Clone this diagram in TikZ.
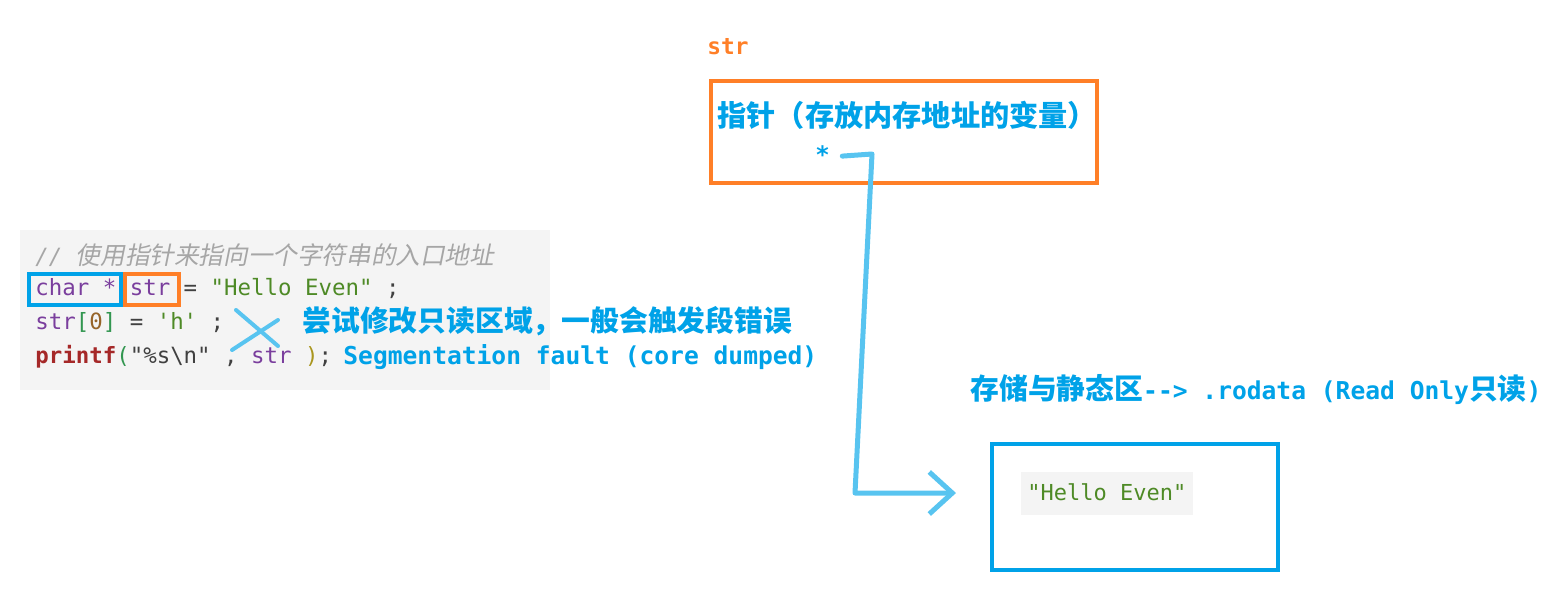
\documentclass[tikz,border=0pt]{standalone}
\usepackage{fontspec}
\setmonofont{DejaVu Sans Mono}
\newfontfamily\cjk{Noto Sans CJK SC}
\newfontfamily\cjkit[FakeSlant=0.2]{Noto Sans CJK SC}
\usetikzlibrary{arrows.meta}

\definecolor{paintorange}{RGB}{255,127,39}
\definecolor{paintblue}{RGB}{0,162,232}
\definecolor{penblue}{RGB}{88,196,240}
\definecolor{codebg}{RGB}{244,244,244}
\definecolor{cmtgray}{RGB}{166,166,166}
\definecolor{kwpurple}{RGB}{122,62,157}
\definecolor{strgreen}{RGB}{78,138,38}
\definecolor{fnred}{RGB}{165,40,40}
\definecolor{plaingray}{RGB}{64,64,64}
\definecolor{numbrown}{RGB}{150,100,40}
\definecolor{brkgreen}{RGB}{50,150,80}
\definecolor{brkolive}{RGB}{170,150,30}

\begin{document}
\begin{tikzpicture}
[
    x=0.5pt, y=-0.5pt,
    codeline/.style={font=\ttfamily\fontsize{11.2}{13}\selectfont, inner sep=0pt, anchor=base west},
    bluenote/.style={text=paintblue, inner sep=0pt, anchor=base west},
    framebox/.style={draw=#1, line width=2pt, inner sep=0pt, anchor=north west},
    penline/.style={draw=penblue, line width=2.5pt, line cap=round, line join=round},
]
\useasboundingbox (0,0) rectangle (1568,601);

% code snippet
\fill[codebg] (20,230) rectangle (550,390);
\node[codeline] (cmt) at (35,264)
{\color{cmtgray}\itshape //\ {\cjkit\fontsize{12.3}{14}\selectfont 使用指针来指向一个字符串的入口地址}};
\node[codeline] (decl) at (35,295)
{\textcolor{kwpurple}{char *} \textcolor{kwpurple}{str} \textcolor{plaingray}{=} \textcolor{strgreen}{"Hello Even"} \textcolor{plaingray}{;}};
\node[codeline] (assign) at (35,329)
{\textcolor{kwpurple}{str}\textcolor{brkgreen}{[}\textcolor{numbrown}{0}\textcolor{brkgreen}{]} \textcolor{plaingray}{=} \textcolor{strgreen}{'h'} \textcolor{plaingray}{;}};
\node[codeline] (call) at (35,363)
{\textcolor{fnred}{\bfseries printf}\textcolor{brkgreen}{(}\textcolor{plaingray}{"\%s\textbackslash n"} \textcolor{plaingray}{,} \textcolor{kwpurple}{str} \textcolor{brkolive}{)}\textcolor{plaingray}{;}};
\node[framebox=paintblue, minimum width=46pt, minimum height=15.5pt] (typebox) at (27,272) {};
\node[framebox=paintorange, minimum width=27pt, minimum height=15.5pt] (namebox) at (123,272) {};

% cross
\draw[penline, line width=2pt] (236,310) -- (278,346);
\draw[penline, line width=2pt] (278,320) -- (232,350);

% notes
\node[bluenote] (warn) at (302,331)
{\cjk\bfseries\fontsize{14.4}{16}\selectfont 尝试修改只读区域，一般会触发段错误};
\node[bluenote] (segv) at (343,364)
{\ttfamily\bfseries\fontsize{12.3}{14}\selectfont Segmentation fault (core dumped)};

% pointer variable
\node[inner sep=0pt, anchor=base west, text=paintorange] (ptrname) at (707,54)
{\ttfamily\bfseries\fontsize{11.4}{13}\selectfont str};
\node[framebox=paintorange, minimum width=193pt, minimum height=51pt] (ptrbox) at (709,79) {};
\node[bluenote] (ptrtext) at (717,126)
{\cjk\bfseries\fontsize{14.6}{16}\selectfont 指针（存放内存地址的变量）};
\node[bluenote] (star) at (815,163)
{\ttfamily\bfseries\fontsize{12}{14}\selectfont *};

% read only data
\node[bluenote] (rolabel) at (970,399)
{\fontsize{14.4}{16}\selectfont{\cjk\bfseries 存储与静态区}\fontsize{12.3}{14}\selectfont\ttfamily\bfseries--> .rodata (Read Only{\cjk\fontsize{14.4}{16}\selectfont 只读})};
\node[framebox=paintblue, minimum width=143pt, minimum height=63pt] (robox) at (990,442) {};
\fill[codebg] (1021,472) rectangle (1193,515);
\node[codeline, font=\ttfamily\fontsize{11}{13}\selectfont] (roval) at (1027,500)
{\textcolor{strgreen}{"Hello Even"}};

% pointer arrow
\coordinate (bendA) at (872,154);
\coordinate (bendB) at (855,493);
\coordinate (tip) at (956,493);
\draw[penline, -{Straight Barb[length=11.5pt,width=21pt]}]
    ([xshift=6pt,yshift=-1pt]star.east) -- (bendA) -- (bendB) -- (tip);
\end{tikzpicture}
\end{document}
